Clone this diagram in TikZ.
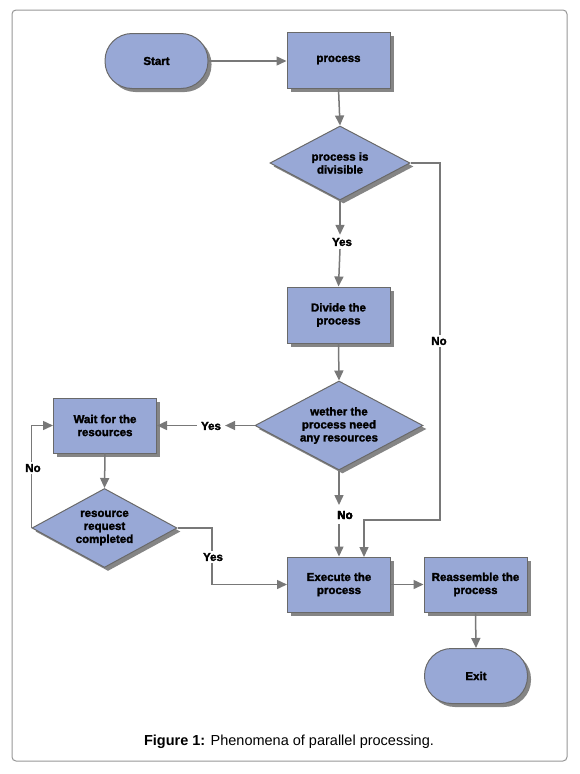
\documentclass[tikz,border=0pt]{standalone}
\usepackage{fontspec}
\setmainfont{Liberation Sans}
\newfontfamily\heavyfont{Liberation Sans}[BoldFeatures={FakeBold=2}]
\usetikzlibrary{shapes.geometric,arrows.meta,shadows}
\definecolor{nodefill}{RGB}{152,168,214}
\definecolor{nodeline}{RGB}{105,105,105}
\definecolor{conn}{RGB}{120,120,120}
\definecolor{framec}{RGB}{150,150,150}
\tikzset{
  nfont/.style={font=\heavyfont\bfseries\fontsize{11.5}{13}\selectfont},
  base/.style={draw=nodeline, line width=1pt, fill=nodefill,
    drop shadow={shadow xshift=3.5pt, shadow yshift=-3.5pt, fill=black!80, opacity=0.6},
    nfont, align=center, inner sep=0pt},
  procbox/.style={base, rectangle, minimum width=103pt, minimum height=56pt},
  term/.style={base, rectangle, rounded corners=27pt, minimum width=103pt, minimum height=55pt},
  dia/.style={base, diamond, inner sep=0pt},
  txt/.style={nfont, align=center, inner sep=0pt},
  lbl/.style={nfont, fill=white, inner sep=2pt},
  conn/.style={draw=conn, line width=1.5pt, -{Triangle[length=10pt,width=9pt]}},
}
\begin{document}
\begin{tikzpicture}[x=1pt,y=-1pt]
\useasboundingbox (0,0) rectangle (579,774);
\draw[framec, line width=1pt, rounded corners=4pt] (12,10) rectangle (567,761);

% nodes
\node[term] (start) at (156.5,61) {Start};
\node[procbox] (proc) at (338.5,60) {process};
\node[dia, minimum width=140pt, minimum height=74pt] (d1) at (340,163) {};
\node[txt] (d1t) at (d1.center) {process is\\divisible};
\node[procbox] (divide) at (338.5,315) {Divide the\\process};
\node[dia, minimum width=168pt, minimum height=89pt] (d2) at (339,425.5) {};
\node[txt] (d2t) at (d2.center) {wether the\\process need\\any resources};
\node[procbox, minimum height=55pt] (wait) at (105,425.5) {Wait for the\\resources};
\node[dia, minimum width=145pt, minimum height=79pt] (d3) at (104.5,528) {};
\node[txt] (d3t) at (d3.center) {resource\\request\\completed};
\node[procbox, minimum height=55pt] (exec) at (339,584.5) {Execute the\\process};
\node[procbox, minimum height=55pt] (reas) at (475.5,584.5) {Reassemble the\\process};
\node[term] (exit) at (476,676) {Exit};

% labels on split connectors
\node[lbl, inner sep=3pt] (yes1) at (342,242) {Yes};
\node[lbl, inner sep=4pt] (yes2) at (211,426) {Yes};
\node[lbl, inner sep=3pt] (no2) at (345,515) {No};
\coordinate (no2top) at (339,505);
\coordinate (no2bot) at (339,524);

% connectors
\draw[conn] (start.east) -- (proc.west |- start.east);
\draw[conn] (proc.south) -- (d1.north);
\draw[conn] (d1.south) -- (d1.south |- yes1.north);
\draw[conn] (d1.south |- yes1.south) -- (divide.north);
\draw[conn] (divide.south) -- (d2.north);
\draw[conn] (d2.west) -- (yes2.east |- d2.west);
\draw[conn] (yes2.west |- d2.west) -- (wait.east);
\draw[conn] (wait.south) -- (d3.north);
\draw[conn] (d3.west) -- (d3.west |- wait.west) -- (wait.west);
\node[lbl] (no1) at (33,468) {No};
\draw[conn] (d3.east) -- (212,528) -- (212,584.5) -- (exec.west);
\node[lbl] (yes3) at (213,557) {Yes};
\draw[conn] (d2.south) -- (no2top);
\draw[conn] (no2bot) -- (exec.north);
\node[txt] (no2t) at (no2) {No};
\draw[conn] (d1.east) -- (440,163) -- (440,520) -- (364,520) -- (364,557);
\node[lbl] (no3) at (439,341) {No};
\draw[conn] (exec.east) -- (reas.west);
\draw[conn] (reas.south) -- (exit.north);

% caption
\node[font=\fontsize{14.5}{16}\selectfont, inner sep=0pt] (cap) at (289,742) {\textbf{Figure 1:} Phenomena of parallel processing.};
\end{tikzpicture}
\end{document}
